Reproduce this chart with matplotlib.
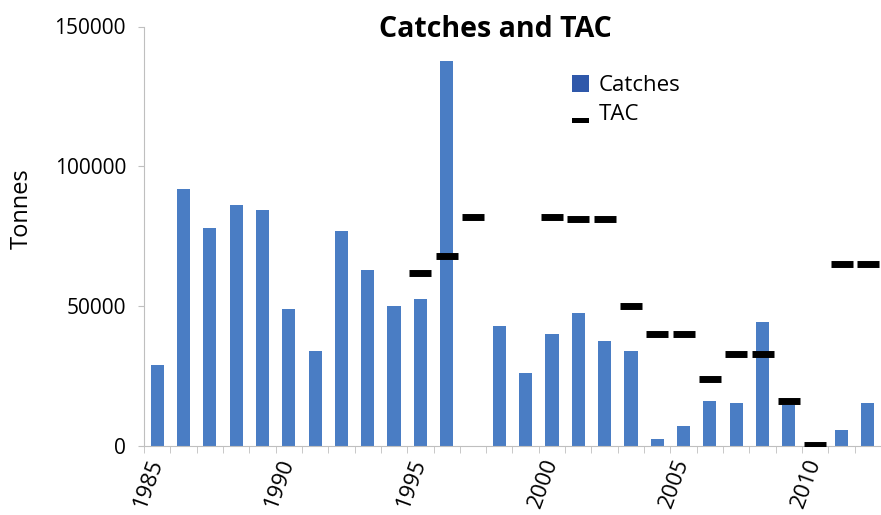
import numpy as np
import matplotlib
matplotlib.use("Agg")
import matplotlib.pyplot as plt
import matplotlib.transforms as mtrans
from matplotlib.patches import Patch, Rectangle
from matplotlib.legend_handler import HandlerBase

plt.rcParams['font.family'] = ['Open Sans', 'DejaVu Sans']

# datos
anios = list(range(1985, 2013))
capturas = [29000, 92000, 78000, 86000, 84500, 49000, 34000, 77000, 63000, 50000,
            52500, 137500, np.nan, 43000, 26000, 40000, 47500, 37500, 34000, 2500,
            7000, 16000, 15300, 44500, 14500, np.nan, 5700, 15300]
tac = [np.nan, np.nan, np.nan, np.nan, np.nan, np.nan, np.nan, np.nan, np.nan, np.nan,
       62000, 68000, 82000, np.nan, np.nan, 82000, 81000, 81000, 50000, 40000,
       40000, 24000, 33000, 33000, 16000, 500, 65000, 65000]
etiquetas_x = [1985, 1990, 1995, 2000, 2005, 2010]
ticks_y = [0, 50000, 100000, 150000]


# guion negro abajo, como en la leyenda original
class GuionAbajo(HandlerBase):
    def create_artists(self, legend, orig_handle, xdescent, ydescent,
                       width, height, fontsize, trans):
        r = Rectangle((-xdescent, -ydescent - 0.15 * height), width, 0.3 * height,
                      facecolor='black', edgecolor='none', transform=trans)
        return [r]


fig = plt.figure(figsize=(8.81, 5.15), dpi=100)
ax = fig.add_axes([144 / 881, 1 - 446 / 515, 1 - 144 / 881, (446 - 26.5) / 515])

ax.bar(anios, capturas, width=0.5, color='#4A7DC4', zorder=2)
ax.plot(anios, tac, linestyle='none', marker='_', markersize=16,
        markeredgewidth=5, color='black', zorder=3)

ax.set_xlim(1984.5, 2012.5)
ax.set_ylim(0, 150000)
ax.set_yticks(ticks_y)
ax.set_yticklabels([str(v) for v in ticks_y], fontsize=15)
ax.set_xticks(etiquetas_x)
ax.set_xticklabels([str(a) for a in etiquetas_x], rotation=70, fontsize=16,
                   ha='right', va='top', rotation_mode='anchor')
ax.set_xticks(np.arange(1984.5, 2013, 1), minor=True)
ax.tick_params(axis='x', which='major', length=0, pad=7)
ax.tick_params(axis='x', which='minor', length=5, color='#BFBFBF')
ax.tick_params(axis='y', length=4, color='#BFBFBF', pad=9)

# mover las etiquetas de los anios un poco a la izquierda
desplazamiento = mtrans.ScaledTranslation(-10 / 100, 0, fig.dpi_scale_trans)
for etiqueta in ax.get_xticklabels():
    etiqueta.set_transform(etiqueta.get_transform() + desplazamiento)

for lado in ['top', 'right']:
    ax.spines[lado].set_visible(False)
ax.spines['left'].set_color('#BFBFBF')
ax.spines['bottom'].set_color('#BFBFBF')

ax.set_ylabel('Tonnes', fontsize=17)
ax.yaxis.set_label_coords(-0.150, 0.567)

fig.text(0.562, 0.942, 'Catches and TAC', fontsize=20.5, fontweight='bold',
         ha='center', va='center')

h_capturas = Patch(facecolor='#2F58AA', edgecolor='none')
h_tac = Rectangle((0, 0), 1, 1)
ax.legend([h_capturas, h_tac], ['Catches', 'TAC'], loc='upper left',
          bbox_to_anchor=(561 / 881, 1 - 64 / 515), bbox_transform=fig.transFigure,
          frameon=False, fontsize=16, handlelength=0.75, handleheight=0.75,
          handletextpad=0.45, labelspacing=0.35, borderpad=0,
          handler_map={h_tac: GuionAbajo()})

fig.savefig('out.png', dpi=100)
